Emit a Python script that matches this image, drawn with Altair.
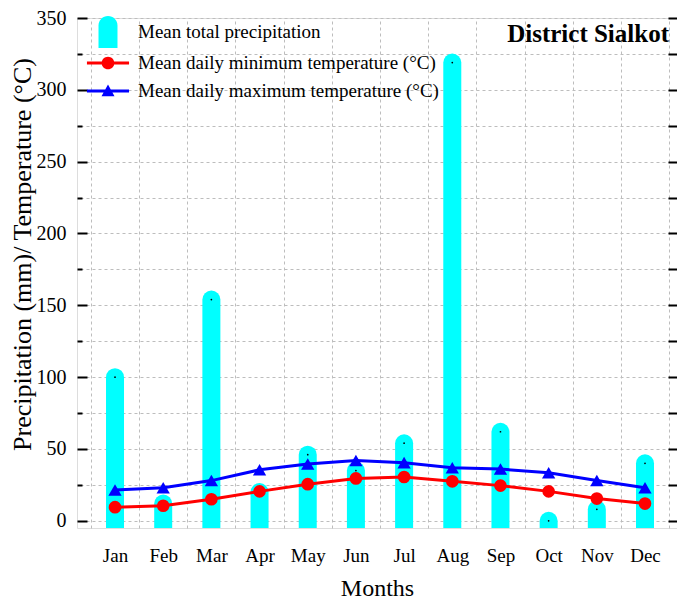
import altair as alt
import pandas as pd

months = ["Jan", "Feb", "Mar", "Apr", "May", "Jun", "Jul", "Aug", "Sep", "Oct", "Nov", "Dec"]
month_num = list(range(1, 13))
precip = [100, 12, 154, 20, 46, 35, 54, 319, 62, 0, 8, 40]
tmin = [9.5, 10.5, 15, 20.5, 25.5, 29.5, 30.5, 27.5, 24.5, 20.5, 15.5, 12]
tmax = [21.5, 23, 28, 35.5, 39.5, 42, 40.5, 37, 36, 33.5, 28, 23]

series = ["Mean total precipitation",
          "Mean daily minimum temperature (°C)",
          "Mean daily maximum temperature (°C)"]
series_colors = ["#00FFFF", "#FF0000", "#0000FF"]
series_shapes = [
    "M-0.73,1.23 L-0.73,-0.5 A0.73,0.73 0 0 1 0.73,-0.5 L0.73,1.23 Z",
    "M0,-1 M0,1 M-1.62,-0.115 L1.62,-0.115 L1.62,0.115 L-1.62,0.115 Z "
    "M-0.49,0 A0.49,0.49 0 1 1 0.49,0 A0.49,0.49 0 1 1 -0.49,0 Z",
    "M0,-1 M0,1 M-1.62,-0.115 L1.62,-0.115 L1.62,0.115 L-1.62,0.115 Z "
    "M0,-0.5 L0.5,0.4 L-0.5,0.4 Z",
]

df = pd.DataFrame({"m": month_num, "month": months, "p": precip, "tmin": tmin, "tmax": tmax})
leg_df = pd.DataFrame({"s": series})

W, H = 600, 510
FONT = "Liberation Serif, Times New Roman, serif"

xs = alt.Scale(domain=[0.211, 12.664], nice=False, zero=False)
ys = alt.Scale(domain=[-5, 350], nice=False, zero=False)

month_expr = "[" + ",".join(f"'{m}'" for m in months) + "][datum.value - 1]"

x_labels_axis = alt.Axis(orient="bottom", values=month_num, labelExpr=month_expr, ticks=False,
                         grid=False, domain=False, title="Months", labelFontSize=19,
                         titleFontSize=24, labelPadding=18, titlePadding=11,
                         labelColor="black", titleColor="black", titleFontWeight="normal",
                         labelFont=FONT, titleFont=FONT)
x_grid_axis = alt.Axis(orient="top", values=[i + 0.5 for i in range(0, 13)], grid=True,
                       gridDash=[3, 3], gridColor="#bdbdbd", gridWidth=1, labels=False,
                       ticks=False, domain=False, title=None)
y_labels_axis = alt.Axis(orient="left", values=list(range(0, 351, 50)), ticks=False, grid=False,
                         domain=False, title="Precipitation (mm)/ Temperature (°C)",
                         labelFontSize=20, titleFontSize=26, labelPadding=11, titlePadding=1,
                         titleY=236,
                         labelColor="black", titleColor="black", titleFontWeight="normal",
                         labelFont=FONT, titleFont=FONT)
y_grid_axis = alt.Axis(orient="right", values=list(range(0, 351, 25)), grid=True, gridDash=[3, 3],
                       gridColor="#bdbdbd", gridWidth=1, labels=False, ticks=False, domain=False,
                       title=None)
y_left_major = alt.Axis(orient="right", offset=-W, values=list(range(0, 351, 50)), ticks=True,
                        tickSize=10, tickWidth=2, tickColor="black", labels=False, grid=False,
                        domain=False, title=None)
y_left_minor = alt.Axis(orient="right", offset=-W, values=list(range(25, 351, 50)), ticks=True,
                        tickSize=5, tickWidth=2, tickColor="black", labels=False, grid=False,
                        domain=False, title=None)
y_right_ticks = alt.Axis(orient="left", offset=-W, values=list(range(0, 351, 25)), ticks=True,
                         tickSize=9, tickWidth=2, tickColor="black", labels=False, grid=False,
                         domain=False, title=None)

base = alt.Chart(df)

bars = base.mark_rule(strokeWidth=18, strokeCap="round", color="#00FFFF", clip=True).encode(
    x=alt.X("m:Q", scale=xs, axis=x_labels_axis),
    y=alt.Y("p:Q", scale=ys, axis=y_labels_axis),
    y2=alt.datum(-12),
)
dots = base.mark_circle(size=3, color="black", opacity=1).encode(
    x=alt.X("m:Q", scale=xs, axis=x_grid_axis),
    y=alt.Y("p:Q", scale=ys, axis=y_grid_axis),
)
min_line = base.mark_line(color="#FF0000", strokeWidth=3).encode(
    x=alt.X("m:Q", scale=xs, axis=None),
    y=alt.Y("tmin:Q", scale=ys, axis=y_left_major),
)
min_pts = base.mark_point(filled=True, shape="circle", size=160, color="#FF0000", opacity=1).encode(
    x=alt.X("m:Q", scale=xs, axis=None),
    y=alt.Y("tmin:Q", scale=ys, axis=y_left_minor),
)
max_line = base.mark_line(color="#0000FF", strokeWidth=3).encode(
    x=alt.X("m:Q", scale=xs, axis=None),
    y=alt.Y("tmax:Q", scale=ys, axis=y_right_ticks),
)
max_pts = base.mark_point(filled=True, shape="triangle-up", size=177, color="#0000FF", opacity=1).encode(
    x=alt.X("m:Q", scale=xs, axis=None),
    y=alt.Y("tmax:Q", scale=ys, axis=None),
)

legend_layer = alt.Chart(leg_df).mark_point(filled=True).encode(
    color=alt.Color("s:N", scale=alt.Scale(domain=series, range=series_colors),
                    legend=alt.Legend(title=None, orient="none", legendX=18, legendY=1,
                                      padding=0, symbolSize=676, symbolStrokeWidth=0,
                                      labelOffset=17, rowPadding=2, labelFontSize=19,
                                      labelFont=FONT, labelColor="black", labelLimit=400)),
    shape=alt.Shape("s:N", scale=alt.Scale(domain=series, range=series_shapes), legend=None),
    opacity=alt.value(0),
)

title_df = pd.DataFrame({"t": ["District Sialkot"]})
title_text = alt.Chart(title_df).mark_text(
    align="right", baseline="alphabetic", fontSize=25, fontWeight="bold", font=FONT, color="black"
).encode(text="t:N", x=alt.value(592), y=alt.value(24))

chart = alt.layer(
    bars, dots, min_line, min_pts, max_line, max_pts, legend_layer, title_text
).resolve_axis(
    x="independent", y="independent"
).properties(
    width=W, height=H,
    autosize=alt.AutoSizeParams(type="none"),
    padding={"left": 69, "top": 10, "right": 0, "bottom": 73},
).configure_view(
    stroke="black", strokeWidth=2
).configure(
    font=FONT
)

chart.save("out.html", embed_options={"renderer": "svg", "actions": False})
